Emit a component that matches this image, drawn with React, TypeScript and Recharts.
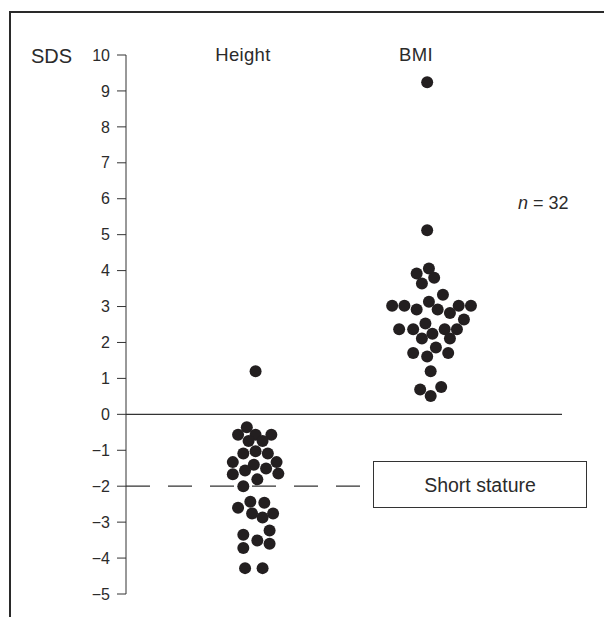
import { Scatter, ScatterChart, XAxis, YAxis, ReferenceLine } from 'recharts'

// SDS values, with each dot's sideways offset in the swarm
const heightSds = [
  1.2, -0.36, -0.57, -0.57, -0.57, -0.74, -0.74, -1.03, -1.09, -1.09, -1.33, -1.33, -1.4, -1.51, -1.56,
  -1.65, -1.67, -1.81, -2.0, -2.43, -2.46, -2.6, -2.76, -2.76, -2.87, -3.23, -3.35, -3.51, -3.6,
  -3.72, -4.28, -4.28,
]
const heightOffsets = [
  0, -0.05, -0.1, 0, 0.09, -0.04, 0.04, 0, -0.07, 0.07, -0.13, 0.12, -0.01, 0.06, -0.06, 0.13, -0.13,
  0.01, -0.07, -0.03, 0.05, -0.1, -0.02, 0.1, 0.04, 0.08, -0.07, 0.01, 0.08, -0.07, -0.06, 0.04,
]
const bmiSds = [
  9.24, 5.12, 4.06, 3.92, 3.8, 3.64, 3.33, 3.13, 3.02, 3.02, 3.02, 3.02, 2.92, 2.92, 2.82, 2.64, 2.53,
  2.37, 2.37, 2.37, 2.37, 2.24, 2.11, 2.11, 1.86, 1.71, 1.71, 1.61, 1.2, 0.76, 0.69, 0.51,
]
const bmiOffsets = [
  -0.02, -0.02, -0.01, -0.08, 0.02, -0.05, 0.07, -0.01, -0.22, -0.15, 0.16, 0.23, -0.08, 0.04, 0.11, 0.19,
  -0.03, -0.18, -0.1, 0.08, 0.15, 0.01, -0.05, 0.11, 0.03, -0.1, 0.1, -0.02, 0, 0.06, -0.06, 0,
]
const yTicks = [-5, -4, -3, -2, -1, 0, 1, 2, 3, 4, 5, 6, 7, 8, 9, 10]

const HEIGHT_X = 1
const BMI_X = 2
const X_DOMAIN: [number, number] = [0.26, 2.75]
const SHORT_STATURE = -2
const INK = '#231f20'
const LINE = '#333'
const TEXT = '#2b2b2b'
const FONT = '"Liberation Sans", Arial, sans-serif'

const heightData = heightSds.map((y, i) => ({ x: HEIGHT_X + heightOffsets[i], y }))
const bmiData = bmiSds.map((y, i) => ({ x: BMI_X + bmiOffsets[i], y }))

const Dot = (props: any) => <circle cx={props.cx} cy={props.cy} r={6} fill={INK} />

const label = { position: 'absolute' as const, fontFamily: FONT, color: TEXT, lineHeight: '20px', whiteSpace: 'nowrap' as const }

export default function App() {
  return (
    <div style={{ position: 'fixed', left: 0, top: 0, width: 604, height: 617, background: '#fff', overflow: 'hidden' }}>
      <ScatterChart width={604} height={617} margin={{ top: 55, right: 42, bottom: 23, left: 66 }} style={{ position: 'absolute', left: 0, top: 0 }}>
        <XAxis type="number" dataKey="x" domain={X_DOMAIN} hide />
        <YAxis
          type="number"
          dataKey="y"
          domain={[-5, 10]}
          ticks={yTicks}
          interval={0}
          width={60}
          tickSize={9}
          tickMargin={7}
          stroke={LINE}
          tickFormatter={(v: number) => (v < 0 ? `\u2212${Math.abs(v)}` : `${v}`)}
          tick={{ fill: TEXT, fontSize: 16, fontFamily: FONT }}
        />
        <ReferenceLine y={0} stroke={LINE} strokeWidth={1.2} />
        <ReferenceLine
          segment={[{ x: X_DOMAIN[0], y: SHORT_STATURE }, { x: 1.6, y: SHORT_STATURE }]}
          stroke={LINE}
          strokeWidth={1.2}
          strokeDasharray="24 18"
        />
        <Scatter name="Height" data={heightData} shape={Dot} isAnimationActive={false} />
        <Scatter name="BMI" data={bmiData} shape={Dot} isAnimationActive={false} />
      </ScatterChart>
      {/* outer frame: top and left edges only */}
      <div style={{ position: 'absolute', left: 9, top: 11, width: 595, height: 2, background: '#2a2a2a' }} />
      <div style={{ position: 'absolute', left: 9, top: 11, width: 2, height: 606, background: '#2a2a2a' }} />
      <div style={{ ...label, left: 31, top: 46, fontSize: 20 }}>SDS</div>
      <div style={{ ...label, left: 193, top: 45, width: 100, textAlign: 'center', fontSize: 18.5, letterSpacing: 0.3 }}>Height</div>
      <div style={{ ...label, left: 366, top: 45, width: 100, textAlign: 'center', fontSize: 18.5, letterSpacing: 0.3 }}>BMI</div>
      <div style={{ ...label, left: 518, top: 193, fontSize: 18 }}>
        <i>n</i> = 32
      </div>
      <div
        style={{
          ...label,
          left: 373,
          top: 461,
          width: 212,
          height: 45,
          fontSize: 19.5,
          border: `1px solid ${LINE}`,
          display: 'flex',
          alignItems: 'center',
          justifyContent: 'center',
        }}
      >
        Short stature
      </div>
    </div>
  )
}
